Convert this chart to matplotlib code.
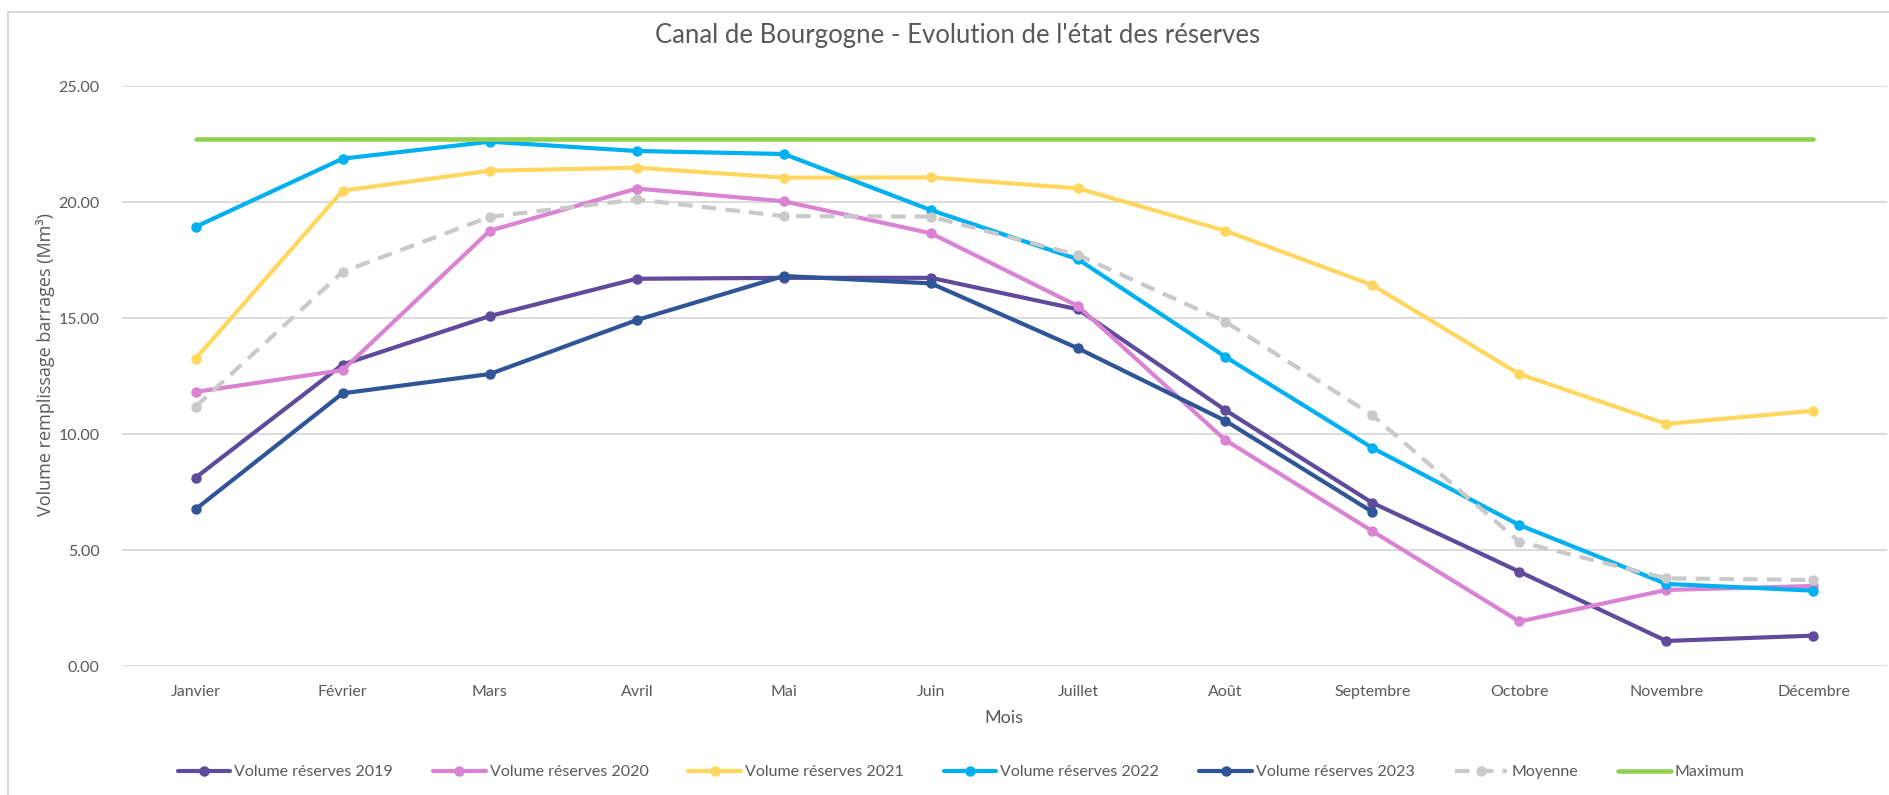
import numpy as np
import matplotlib
matplotlib.use("Agg")
import matplotlib.pyplot as plt
from matplotlib.patches import Rectangle

plt.rcParams["font.family"] = ["Lato", "DejaVu Sans"]

# --- data (Mm³) ---
mois = ["Janvier", "Février", "Mars", "Avril", "Mai", "Juin", "Juillet", "Août",
        "Septembre", "Octobre", "Novembre", "Décembre"]
v2019 = [8.12, 13.00, 15.09, 16.70, 16.74, 16.74, 15.38, 11.04, 7.04, 4.07, 1.08, 1.31]
v2020 = [11.82, 12.76, 18.77, 20.59, 20.04, 18.66, 15.52, 9.75, 5.82, 1.92, 3.28, 3.45]
v2021 = [13.25, 20.50, 21.36, 21.49, 21.06, 21.07, 20.60, 18.77, 16.43, 12.59, 10.44, 11.01]
v2022 = [18.94, 21.88, 22.61, 22.21, 22.08, 19.66, 17.54, 13.34, 9.41, 6.08, 3.54, 3.25]
v2023 = [6.76, 11.76, 12.59, 14.92, 16.82, 16.50, 13.70, 10.58, 6.65, np.nan, np.nan, np.nan]
moyenne = [11.18, 17.00, 19.37, 20.12, 19.40, 19.38, 17.72, 14.85, 10.82, 5.36, 3.78, 3.71]
maximum = [22.71, 22.71, 22.71, 22.71, 22.71, 22.71, 22.71, 22.71, 22.71, 22.71, 22.71, 22.71]

W, H = 1890, 795
TXT = "#595959"
GRID = "#D9D9D9"

fig = plt.figure(figsize=(W / 100, H / 100), dpi=100)
ax = fig.add_axes([122 / W, 1 - 666 / H, (1887 - 122) / W, (666 - 86.3) / H])

x = np.arange(len(mois))
series = [
    (v2019, "Volume réserves 2019", "#5F4B9B"),
    (v2020, "Volume réserves 2020", "#DA83D2"),
    (v2021, "Volume réserves 2021", "#FFD75F"),
    (v2022, "Volume réserves 2022", "#00B0F0"),
    (v2023, "Volume réserves 2023", "#2F5597"),
]
for vals, lab, col in series:
    ax.plot(x, vals, "-", color=col, lw=3, marker="o", ms=6.5, label=lab,
            solid_capstyle="round")
ax.plot(x, moyenne, color="#C9C9C9", lw=3, marker="o", ms=6.5, dashes=(3.5, 2.2),
        label="Moyenne")
ax.plot(x, maximum, color="#92D050", lw=3.3, label="Maximum", solid_capstyle="round")

ax.set_xlim(-0.5, 11.5)
ax.set_ylim(0, 25)
ax.set_yticks([0, 5, 10, 15, 20, 25])
ax.set_yticklabels([f"{v:.2f}" for v in [0, 5, 10, 15, 20, 25]])
ax.set_xticks(x)
ax.set_xticklabels(mois)
ax.tick_params(length=0, labelsize=11.5, colors=TXT)
ax.tick_params(axis="y", pad=16)
ax.tick_params(axis="x", pad=14)
ax.grid(axis="y", color=GRID, lw=1.3)
ax.set_axisbelow(True)
for s in ax.spines.values():
    s.set_visible(False)

fig.text(958 / W, 1 - 35 / H, "Canal de Bourgogne - Evolution de l'état des réserves",
         ha="center", va="center", fontsize=18.5, color=TXT)
fig.text(1004 / W, 1 - 718 / H, "Mois", ha="center", va="center", fontsize=13, color=TXT)
fig.text(46 / W, 1 - 364 / H, "Volume remplissage barrages (Mm³)", rotation=90,
         ha="center", va="center", fontsize=13, color=TXT, family=["Open Sans", "DejaVu Sans"])

fig.legend(*ax.get_legend_handles_labels(), loc="center", bbox_to_anchor=(961 / W, 23 / H),
           ncol=7, frameon=False, fontsize=11.5, labelcolor=TXT, handlelength=3.3,
           handletextpad=0.25, columnspacing=2.5)

fig.add_artist(Rectangle((8 / W, -0.05), 1.1, 1.05 - 12 / H, transform=fig.transFigure,
                         fill=False, ec=GRID, lw=1.5))

fig.savefig("out.png", dpi=100)
